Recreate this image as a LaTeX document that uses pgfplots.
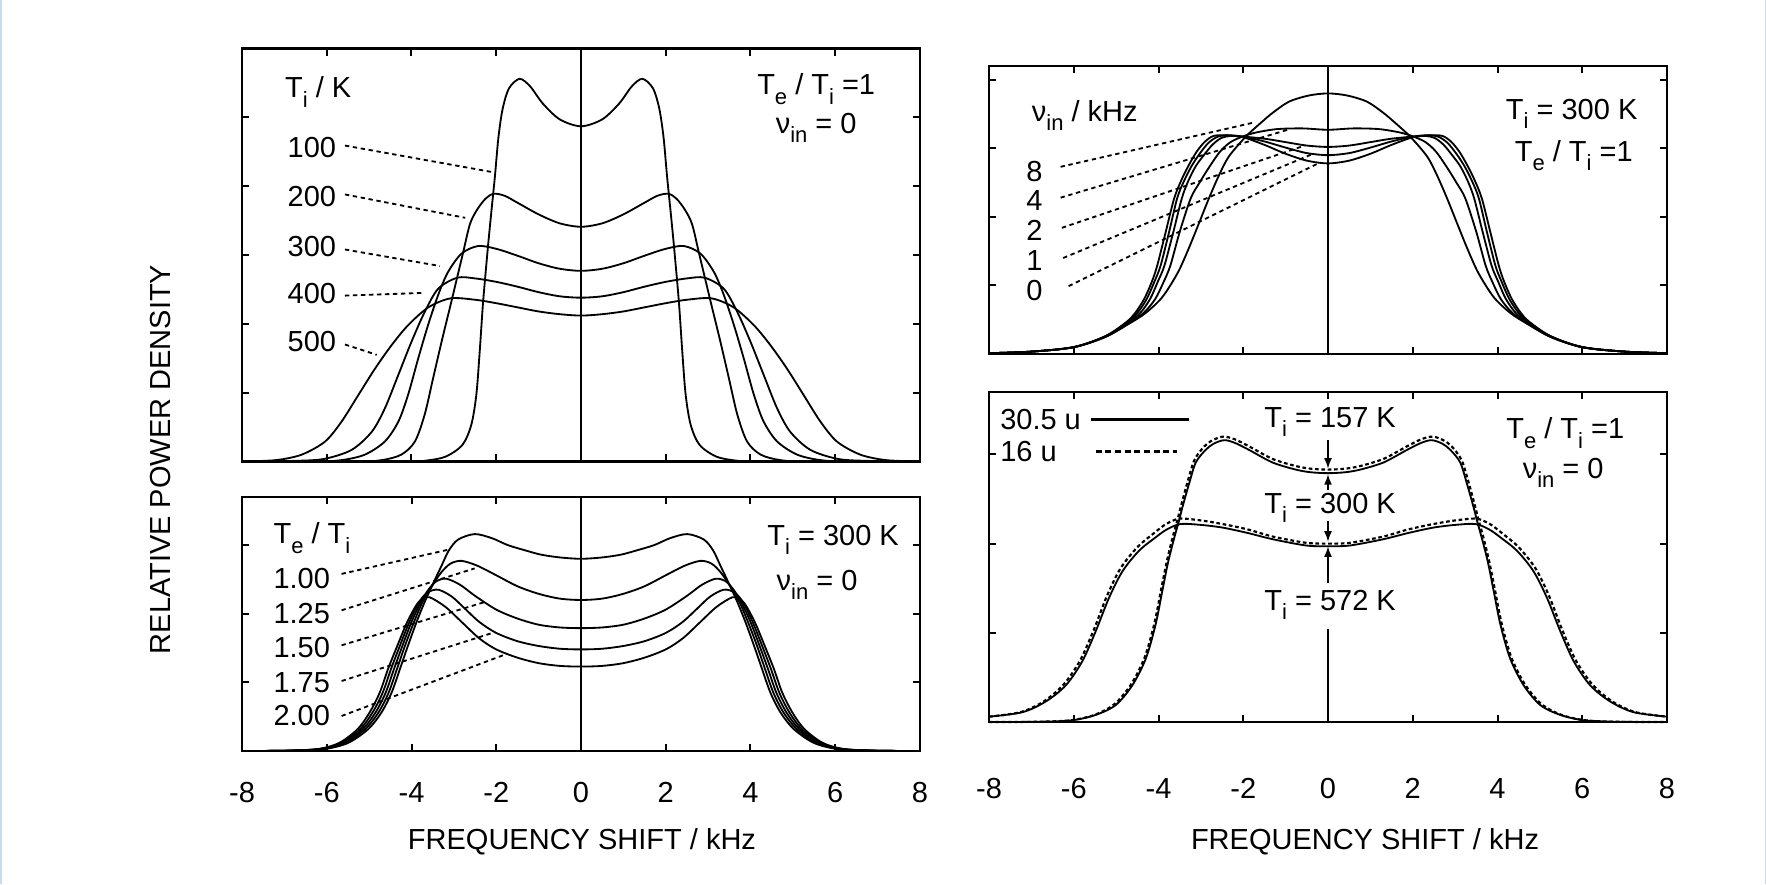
\documentclass[border=0pt]{standalone}
\usepackage{fontspec}
\setmainfont{Liberation Sans}
\usepackage{pgfplots}
\pgfplotsset{compat=1.18}
\usetikzlibrary{arrows.meta}
\definecolor{edgeblue}{RGB}{197,220,242}
\newcommand{\fs}{\fontsize{8.7pt}{10pt}\selectfont}
\newcommand{\sub}[1]{\raisebox{-0.32em}{\fontsize{6.6pt}{7pt}\selectfont #1}}
\tikzset{
  crv/.style={black, line width=0.55pt, smooth, tension=0.5},
  dcrv/.style={black, line width=0.65pt, smooth, tension=0.5, dash pattern=on 1.1pt off 0.8pt},
  lead/.style={black, line width=0.55pt, dash pattern=on 1.3pt off 1.1pt},
  arr/.style={black, line width=0.5pt, -{Latex[length=3.2pt,width=2.4pt]}},
}
\pgfplotsset{
  panel/.style={scale only axis, width=203.4pt, xmin=-8, xmax=8, ymin=0,
    xtick={-8,-6,-4,-2,0,2,4,6,8}, xticklabels={}, yticklabels={},
    tick align=inside, major tick length=2.2pt,
    every tick/.style={black, line width=0.6pt},
    axis line style={line width=0.85pt},
    anchor=north west, clip=false},
}
\begin{document}
\begin{tikzpicture}
\path[use as bounding box] (0,0) rectangle (529.8pt,-265.2pt);
\fill[edgeblue] (0,0) rectangle (0.7pt,-265.2pt);
\fill[edgeblue] (529.5pt,0) rectangle (529.8pt,-265.2pt);

% ---------------- top left ----------------
\begin{axis}[panel, at={(72.6pt,-14.55pt)}, height=123.9pt, ymax=6, ytick={1,2,3,4,5}]
\draw[black, line width=0.5pt] (axis cs:0,0) -- (axis cs:0,6);
\addplot[crv] coordinates {(-8,0) (-4.2,0) (-3.7,0.01) (-3.2,0.07) (-2.8,0.24) (-2.59,0.53) (-2.47,0.97) (-2.39,1.6) (-2.31,2.32) (-2.2,3.09) (-2.12,3.6) (-2.03,4.15) (-1.95,4.7) (-1.85,5.12) (-1.7,5.42) (-1.45,5.56) (-1.2,5.45) (-0.9,5.2) (-0.5,4.97) (0,4.87) (0.5,4.97) (0.9,5.2) (1.2,5.45) (1.45,5.56) (1.7,5.42) (1.85,5.12) (1.95,4.7) (2.03,4.15) (2.12,3.6) (2.2,3.09) (2.31,2.32) (2.39,1.6) (2.47,0.97) (2.59,0.53) (2.8,0.24) (3.2,0.07) (3.7,0.01) (4.2,0) (8,0)};
\addplot[crv] coordinates {(-8,0) (-5.3,0) (-4.7,0.02) (-4.24,0.1) (-3.92,0.29) (-3.69,0.68) (-3.49,1.21) (-3.29,1.74) (-3.06,2.32) (-2.92,2.68) (-2.78,3.04) (-2.62,3.45) (-2.45,3.66) (-2.25,3.82) (-2.06,3.89) (-1.8,3.86) (-1.5,3.76) (-1,3.59) (-0.5,3.46) (0,3.41) (0.5,3.46) (1,3.59) (1.5,3.76) (1.8,3.86) (2.06,3.89) (2.25,3.82) (2.45,3.66) (2.62,3.45) (2.78,3.04) (2.92,2.68) (3.06,2.32) (3.29,1.74) (3.49,1.21) (3.69,0.68) (3.92,0.29) (4.24,0.1) (4.7,0.02) (5.3,0) (8,0)};
\addplot[crv] coordinates {(-8,0) (-6.3,0) (-5.65,0.02) (-5.1,0.1) (-4.63,0.29) (-4.31,0.58) (-4.08,0.97) (-3.84,1.5) (-3.61,1.98) (-3.37,2.42) (-3.14,2.75) (-2.82,3.02) (-2.43,3.13) (-2,3.09) (-1.5,2.99) (-1,2.88) (-0.5,2.8) (0,2.77) (0.5,2.8) (1,2.88) (1.5,2.99) (2,3.09) (2.43,3.13) (2.82,3.02) (3.14,2.75) (3.37,2.42) (3.61,1.98) (3.84,1.5) (4.08,0.97) (4.31,0.58) (4.63,0.29) (5.1,0.1) (5.65,0.02) (6.3,0) (8,0)};
\addplot[crv] coordinates {(-8,0) (-6.7,0.01) (-6.04,0.04) (-5.41,0.17) (-4.94,0.43) (-4.63,0.77) (-4.31,1.26) (-4,1.74) (-3.69,2.17) (-3.37,2.51) (-2.92,2.67) (-2.5,2.66) (-2,2.61) (-1.5,2.54) (-1,2.46) (-0.5,2.4) (0,2.38) (0.5,2.4) (1,2.46) (1.5,2.54) (2,2.61) (2.5,2.66) (2.92,2.67) (3.37,2.51) (3.69,2.17) (4,1.74) (4.31,1.26) (4.63,0.77) (4.94,0.43) (5.41,0.17) (6.04,0.04) (6.7,0.01) (8,0)};
\addplot[crv] coordinates {(-8,0) (-7.2,0.02) (-6.59,0.1) (-6.04,0.29) (-5.65,0.58) (-5.25,0.97) (-4.86,1.35) (-4.47,1.69) (-4.08,1.98) (-3.6,2.24) (-3.08,2.37) (-2.5,2.35) (-2,2.3) (-1.5,2.24) (-1,2.18) (-0.5,2.14) (0,2.12) (0.5,2.14) (1,2.18) (1.5,2.24) (2,2.3) (2.5,2.35) (3.08,2.37) (3.6,2.24) (4.08,1.98) (4.47,1.69) (4.86,1.35) (5.25,0.97) (5.65,0.58) (6.04,0.29) (6.59,0.1) (7.2,0.02) (8,0)};
\draw[lead] (axis cs:-5.57,4.59) -- (axis cs:-2.05,4.2);
\draw[lead] (axis cs:-5.57,3.88) -- (axis cs:-2.73,3.54);
\draw[lead] (axis cs:-5.57,3.08) -- (axis cs:-3.33,2.84);
\draw[lead] (axis cs:-5.57,2.41) -- (axis cs:-3.69,2.45);
\draw[lead] (axis cs:-5.57,1.7) -- (axis cs:-4.82,1.55);
\node[font=\fs] at (axis cs:-6.2,5.37) {T\sub{i} / K};
\node[font=\fs] at (axis cs:-6.35,4.56) {100};
\node[font=\fs] at (axis cs:-6.35,3.85) {200};
\node[font=\fs] at (axis cs:-6.35,3.12) {300};
\node[font=\fs] at (axis cs:-6.35,2.44) {400};
\node[font=\fs] at (axis cs:-6.35,1.74) {500};
\node[font=\fs] at (axis cs:5.55,5.41) {T\sub{e} / T\sub{i} =1};
\node[font=\fs] at (axis cs:5.55,4.85) {ν\sub{in} = 0};
\end{axis}

% ---------------- bottom left ----------------
\begin{axis}[panel, at={(72.6pt,-149.1pt)}, height=76.2pt, ymax=3.7, ytick={1,2,3},
  xticklabels={-8,-6,-4,-2,0,2,4,6,8},
  xticklabel style={font=\fs, anchor=base, yshift=-15.45pt}]
\draw[black, line width=0.5pt] (axis cs:0,0) -- (axis cs:0,3.7);
\addplot[crv] coordinates {(-8,0) (-6.8,0.005) (-6.04,0.03) (-5.49,0.12) (-5.02,0.32) (-4.71,0.56) (-4.47,0.85) (-4.27,1.2) (-4.08,1.54) (-3.88,1.88) (-3.69,2.17) (-3.49,2.44) (-3.29,2.7) (-3.12,2.92) (-2.9,3.08) (-2.51,3.16) (-2.1,3.1) (-1.73,3.0) (-1.3,2.92) (-0.94,2.86) (-0.5,2.82) (0,2.8) (0.5,2.82) (0.94,2.86) (1.3,2.92) (1.73,3.0) (2.1,3.1) (2.51,3.16) (2.9,3.08) (3.12,2.92) (3.29,2.7) (3.49,2.44) (3.69,2.17) (3.88,1.88) (4.08,1.54) (4.27,1.2) (4.47,0.85) (4.71,0.56) (5.02,0.32) (5.49,0.12) (6.04,0.03) (6.8,0.005) (8,0)};
\addplot[crv] coordinates {(-8,0) (-6.85,0.005) (-6.08,0.03) (-5.55,0.12) (-5.09,0.32) (-4.78,0.56) (-4.54,0.85) (-4.34,1.2) (-4.15,1.54) (-3.94,1.88) (-3.74,2.17) (-3.52,2.4) (-3.3,2.6) (-3.08,2.73) (-2.82,2.77) (-2.45,2.7) (-2.0,2.56) (-1.5,2.4) (-1.0,2.29) (-0.5,2.22) (0,2.2) (0.5,2.22) (1.0,2.29) (1.5,2.4) (2.0,2.56) (2.45,2.7) (2.82,2.77) (3.08,2.73) (3.3,2.6) (3.52,2.4) (3.74,2.17) (3.94,1.88) (4.15,1.54) (4.34,1.2) (4.54,0.85) (4.78,0.56) (5.09,0.32) (5.55,0.12) (6.08,0.03) (6.85,0.005) (8,0)};
\addplot[crv] coordinates {(-8,0) (-6.9,0.005) (-6.12,0.03) (-5.6,0.12) (-5.15,0.32) (-4.85,0.56) (-4.61,0.85) (-4.41,1.2) (-4.21,1.54) (-4.0,1.88) (-3.78,2.17) (-3.6,2.35) (-3.42,2.47) (-3.18,2.51) (-2.85,2.42) (-2.5,2.26) (-2.0,2.06) (-1.5,1.93) (-1.0,1.84) (-0.5,1.8) (0,1.79) (0.5,1.8) (1.0,1.84) (1.5,1.93) (2.0,2.06) (2.5,2.26) (2.85,2.42) (3.18,2.51) (3.42,2.47) (3.6,2.35) (3.78,2.17) (4.0,1.88) (4.21,1.54) (4.41,1.2) (4.61,0.85) (4.85,0.56) (5.15,0.32) (5.6,0.12) (6.12,0.03) (6.9,0.005) (8,0)};
\addplot[crv] coordinates {(-8,0) (-6.95,0.005) (-6.16,0.03) (-5.65,0.12) (-5.21,0.32) (-4.92,0.56) (-4.68,0.85) (-4.48,1.2) (-4.27,1.54) (-4.05,1.88) (-3.82,2.17) (-3.62,2.31) (-3.37,2.35) (-3.05,2.25) (-2.75,2.08) (-2.4,1.88) (-2.0,1.72) (-1.5,1.6) (-1.0,1.53) (-0.5,1.49) (0,1.48) (0.5,1.49) (1.0,1.53) (1.5,1.6) (2.0,1.72) (2.4,1.88) (2.75,2.08) (3.05,2.25) (3.37,2.35) (3.62,2.31) (3.82,2.17) (4.05,1.88) (4.27,1.54) (4.48,1.2) (4.68,0.85) (4.92,0.56) (5.21,0.32) (5.65,0.12) (6.16,0.03) (6.95,0.005) (8,0)};
\addplot[crv] coordinates {(-8,0) (-7.0,0.005) (-6.2,0.03) (-5.7,0.12) (-5.27,0.32) (-4.99,0.56) (-4.75,0.85) (-4.55,1.2) (-4.33,1.54) (-4.1,1.88) (-3.87,2.14) (-3.72,2.22) (-3.57,2.24) (-3.2,2.1) (-2.8,1.87) (-2.4,1.64) (-2.0,1.48) (-1.5,1.36) (-1.0,1.28) (-0.5,1.24) (0,1.23) (0.5,1.24) (1.0,1.28) (1.5,1.36) (2.0,1.48) (2.4,1.64) (2.8,1.87) (3.2,2.1) (3.57,2.24) (3.72,2.22) (3.87,2.14) (4.1,1.88) (4.33,1.54) (4.55,1.2) (4.75,0.85) (4.99,0.56) (5.27,0.32) (5.7,0.12) (6.2,0.03) (7.0,0.005) (8,0)};
\draw[lead] (axis cs:-5.65,2.58) -- (axis cs:-3.15,2.93);
\draw[lead] (axis cs:-5.65,2.05) -- (axis cs:-2.51,2.66);
\draw[lead] (axis cs:-5.65,1.54) -- (axis cs:-2.27,2.17);
\draw[lead] (axis cs:-5.65,1.02) -- (axis cs:-2.04,1.73);
\draw[lead] (axis cs:-5.65,0.51) -- (axis cs:-1.73,1.42);
\node[font=\fs] at (axis cs:-6.35,3.1) {T\sub{e} / T\sub{i}};
\node[font=\fs] at (axis cs:-6.59,2.51) {1.00};
\node[font=\fs] at (axis cs:-6.59,2.0) {1.25};
\node[font=\fs] at (axis cs:-6.59,1.51) {1.50};
\node[font=\fs] at (axis cs:-6.59,1.0) {1.75};
\node[font=\fs] at (axis cs:-6.59,0.51) {2.00};
\node[font=\fs] at (axis cs:5.95,3.08) {T\sub{i} = 300 K};
\node[font=\fs] at (axis cs:5.57,2.42) {ν\sub{in} = 0};
\end{axis}

% ---------------- top right ----------------
\begin{axis}[panel, at={(296.7pt,-19.8pt)}, height=86.4pt, ymax=4.2, ytick={1,2,3,4}]
\draw[black, line width=0.7pt] (axis cs:0,0) -- (axis cs:0,4.2);
\addplot[crv] coordinates {(-8,0.012) (-7,0.035) (-6,0.1) (-5.25,0.26) (-4.75,0.47) (-4.55,0.6) (-4.34,0.8) (-4.16,1.05) (-4.03,1.29) (-3.83,1.78) (-3.63,2.27) (-3.45,2.55) (-3.28,2.76) (-3.1,2.95) (-2.9,3.1) (-2.7,3.18) (-2.4,3.19) (-2,3.16) (-1.5,3.05) (-1,2.92) (-0.5,2.82) (0,2.78) (0.5,2.82) (1,2.92) (1.5,3.05) (2,3.16) (2.4,3.19) (2.7,3.18) (2.9,3.1) (3.1,2.95) (3.28,2.76) (3.45,2.55) (3.63,2.27) (3.83,1.78) (4.03,1.29) (4.16,1.05) (4.34,0.8) (4.55,0.6) (4.75,0.47) (5.25,0.26) (6,0.1) (7,0.035) (8,0.012)};
\addplot[crv] coordinates {(-8,0.012) (-7,0.035) (-6,0.1) (-5.25,0.26) (-4.73,0.47) (-4.5,0.6) (-4.28,0.8) (-4.1,1.05) (-3.95,1.29) (-3.75,1.78) (-3.56,2.27) (-3.4,2.52) (-3.22,2.74) (-3.03,2.92) (-2.82,3.08) (-2.6,3.17) (-2.35,3.19) (-2,3.17) (-1.5,3.1) (-1,3.01) (-0.5,2.93) (0,2.9) (0.5,2.93) (1,3.01) (1.5,3.1) (2,3.17) (2.35,3.19) (2.6,3.17) (2.82,3.08) (3.03,2.92) (3.22,2.74) (3.4,2.52) (3.56,2.27) (3.75,1.78) (3.95,1.29) (4.1,1.05) (4.28,0.8) (4.5,0.6) (4.73,0.47) (5.25,0.26) (6,0.1) (7,0.035) (8,0.012)};
\addplot[crv] coordinates {(-8,0.012) (-7,0.035) (-6,0.1) (-5.25,0.26) (-4.7,0.47) (-4.43,0.6) (-4.2,0.8) (-4.02,1.05) (-3.86,1.29) (-3.65,1.78) (-3.45,2.27) (-3.3,2.52) (-3.12,2.74) (-2.93,2.9) (-2.73,3.05) (-2.52,3.15) (-2.3,3.18) (-2,3.17) (-1.5,3.14) (-1,3.09) (-0.5,3.04) (0,3.02) (0.5,3.04) (1,3.09) (1.5,3.14) (2,3.17) (2.3,3.18) (2.52,3.15) (2.73,3.05) (2.93,2.9) (3.12,2.74) (3.3,2.52) (3.45,2.27) (3.65,1.78) (3.86,1.29) (4.02,1.05) (4.2,0.8) (4.43,0.6) (4.7,0.47) (5.25,0.26) (6,0.1) (7,0.035) (8,0.012)};
\addplot[crv] coordinates {(-8,0.012) (-7,0.035) (-6,0.1) (-5.25,0.25) (-4.68,0.46) (-4.35,0.6) (-4.08,0.8) (-3.88,1.05) (-3.72,1.29) (-3.5,1.78) (-3.24,2.27) (-3.03,2.5) (-2.83,2.7) (-2.55,2.95) (-2.3,3.09) (-2.02,3.17) (-1.7,3.23) (-1.2,3.28) (-0.6,3.29) (0,3.27) (0.6,3.29) (1.2,3.28) (1.7,3.23) (2.02,3.17) (2.3,3.09) (2.55,2.95) (2.83,2.7) (3.03,2.5) (3.24,2.27) (3.5,1.78) (3.72,1.29) (3.88,1.05) (4.08,0.8) (4.35,0.6) (4.68,0.46) (5.25,0.25) (6,0.1) (7,0.035) (8,0.012)};
\addplot[crv] coordinates {(-8,0.012) (-7,0.035) (-6,0.1) (-5.25,0.25) (-4.7,0.44) (-4.3,0.6) (-3.91,0.83) (-3.55,1.18) (-3.3,1.52) (-3.05,1.9) (-2.81,2.27) (-2.57,2.61) (-2.34,2.88) (-1.94,3.17) (-1.55,3.39) (-1.3,3.52) (-0.92,3.68) (-0.45,3.77) (0,3.8) (0.45,3.77) (0.92,3.68) (1.3,3.52) (1.55,3.39) (1.94,3.17) (2.34,2.88) (2.57,2.61) (2.81,2.27) (3.05,1.9) (3.3,1.52) (3.55,1.18) (3.91,0.83) (4.3,0.6) (4.7,0.44) (5.25,0.25) (6,0.1) (7,0.035) (8,0.012)};
\draw[lead] (axis cs:-6.31,2.73) -- (axis cs:-1.72,3.38);
\draw[lead] (axis cs:-6.31,2.28) -- (axis cs:-0.9,3.28);
\draw[lead] (axis cs:-6.28,1.84) -- (axis cs:-0.55,3.04);
\draw[lead] (axis cs:-6.25,1.4) -- (axis cs:-0.35,2.92);
\draw[lead] (axis cs:-6.12,0.99) -- (axis cs:-0.2,2.79);
\node[font=\fs] at (axis cs:-5.74,3.48) {ν\sub{in} / kHz};
\node[font=\fs] at (axis cs:-6.93,2.66) {8};
\node[font=\fs] at (axis cs:-6.93,2.24) {4};
\node[font=\fs] at (axis cs:-6.93,1.8) {2};
\node[font=\fs] at (axis cs:-6.93,1.36) {1};
\node[font=\fs] at (axis cs:-6.93,0.93) {0};
\node[font=\fs] at (axis cs:5.75,3.5) {T\sub{i} = 300 K};
\node[font=\fs] at (axis cs:5.8,2.89) {T\sub{e} / T\sub{i} =1};
\end{axis}

% ---------------- bottom right ----------------
\begin{axis}[panel, at={(296.7pt,-117.6pt)}, height=99pt, ymax=3.7, ytick={1,2,3},
  xticklabels={-8,-6,-4,-2,0,2,4,6,8},
  xticklabel style={font=\fs, anchor=base, yshift=-22.95pt}]
\addplot[crv] coordinates {(-8,0) (-6.8,0.003) (-6.03,0.02) (-5.48,0.08) (-5.01,0.19) (-4.62,0.41) (-4.3,0.71) (-4.07,1.09) (-3.91,1.47) (-3.77,1.8) (-3.62,2.08) (-3.52,2.25) (-3.44,2.4) (-3.28,2.67) (-3.12,2.91) (-2.89,3.05) (-2.7,3.12) (-2.45,3.16) (-2.2,3.13) (-1.86,3.05) (-1.31,2.91) (-0.76,2.83) (-0.4,2.8) (0,2.79) (0.4,2.8) (0.76,2.83) (1.31,2.91) (1.86,3.05) (2.2,3.13) (2.45,3.16) (2.7,3.12) (2.89,3.05) (3.12,2.91) (3.28,2.67) (3.44,2.4) (3.52,2.25) (3.62,2.08) (3.77,1.8) (3.91,1.47) (4.07,1.09) (4.3,0.71) (4.62,0.41) (5.01,0.19) (5.48,0.08) (6.03,0.02) (6.8,0.003) (8,0)};
\addplot[crv] coordinates {(-8,0.06) (-7.21,0.11) (-6.66,0.23) (-6.19,0.41) (-5.8,0.68) (-5.48,1.02) (-5.17,1.39) (-4.85,1.69) (-4.46,1.92) (-4.07,2.07) (-3.8,2.16) (-3.48,2.22) (-3.0,2.21) (-2.49,2.18) (-1.9,2.12) (-1.31,2.05) (-0.53,1.98) (0,1.97) (0.53,1.98) (1.31,2.05) (1.9,2.12) (2.49,2.18) (3.0,2.21) (3.48,2.22) (3.8,2.16) (4.07,2.07) (4.46,1.92) (4.85,1.69) (5.17,1.39) (5.48,1.02) (5.8,0.68) (6.19,0.41) (6.66,0.23) (7.21,0.11) (8,0.06)};
\addplot[dcrv] coordinates {(-8,0) (-6.8,0.003) (-6.06,0.02) (-5.51,0.08) (-5.04,0.2) (-4.65,0.42) (-4.33,0.72) (-4.1,1.1) (-3.94,1.48) (-3.8,1.81) (-3.65,2.1) (-3.55,2.27) (-3.47,2.42) (-3.31,2.7) (-3.15,2.94) (-2.92,3.09) (-2.72,3.16) (-2.47,3.2) (-2.2,3.17) (-1.86,3.09) (-1.31,2.95) (-0.76,2.87) (-0.4,2.84) (0,2.83) (0.4,2.84) (0.76,2.87) (1.31,2.95) (1.86,3.09) (2.2,3.17) (2.47,3.2) (2.72,3.16) (2.92,3.09) (3.15,2.94) (3.31,2.7) (3.47,2.42) (3.55,2.27) (3.65,2.1) (3.8,1.81) (3.94,1.48) (4.1,1.1) (4.33,0.72) (4.65,0.42) (5.04,0.2) (5.51,0.08) (6.06,0.02) (6.8,0.003) (8,0)};
\addplot[dcrv] coordinates {(-8,0.06) (-7.26,0.11) (-6.71,0.23) (-6.24,0.42) (-5.85,0.69) (-5.53,1.03) (-5.22,1.41) (-4.9,1.72) (-4.5,1.96) (-4.1,2.12) (-3.82,2.22) (-3.5,2.28) (-3.0,2.26) (-2.49,2.22) (-1.9,2.16) (-1.31,2.08) (-0.53,2.01) (0,2.0) (0.53,2.01) (1.31,2.08) (1.9,2.16) (2.49,2.22) (3.0,2.26) (3.5,2.28) (3.82,2.22) (4.1,2.12) (4.5,1.96) (4.9,1.72) (5.22,1.41) (5.53,1.03) (5.85,0.69) (6.24,0.42) (6.71,0.23) (7.26,0.11) (8,0.06)};
\draw[black, line width=0.6pt] (axis cs:0,0) -- (axis cs:0,1.04);
\draw[arr] (axis cs:0,3.18) -- (axis cs:0,2.84);
\draw[arr] (axis cs:0,2.6) -- (axis cs:0,2.78);
\draw[arr] (axis cs:0,2.25) -- (axis cs:0,2.02);
\draw[arr] (axis cs:0,1.56) -- (axis cs:0,1.97);
\node[font=\fs, fill=white, inner sep=1pt] at (axis cs:0.05,3.36) {T\sub{i} = 157 K};
\node[font=\fs] at (axis cs:0.05,2.4) {T\sub{i} = 300 K};
\node[font=\fs] at (axis cs:0.05,1.31) {T\sub{i} = 572 K};
\node[font=\fs] at (axis cs:5.6,3.24) {T\sub{e} / T\sub{i} =1};
\node[font=\fs] at (axis cs:5.55,2.79) {ν\sub{in} = 0};
\node[font=\fs, anchor=west, inner sep=0pt] at (axis cs:-7.75,3.39) {30.5 u};
\node[font=\fs, anchor=west, inner sep=0pt] at (axis cs:-7.75,3.03) {16 u};
\draw[black, line width=0.8pt] (axis cs:-5.6,3.39) -- (axis cs:-3.28,3.39);
\draw[black, line width=1pt, dash pattern=on 1.8pt off 1.1pt] (axis cs:-5.48,3.03) -- (axis cs:-3.56,3.03);
\end{axis}

\node[font=\fs, rotate=90] at (48.3pt,-137.85pt) {RELATIVE POWER DENSITY};
\node[font=\fs, anchor=base] at (174.6pt,-254.85pt) {FREQUENCY SHIFT / kHz};
\node[font=\fs, anchor=base] at (409.5pt,-254.85pt) {FREQUENCY SHIFT / kHz};
\end{tikzpicture}
\end{document}
